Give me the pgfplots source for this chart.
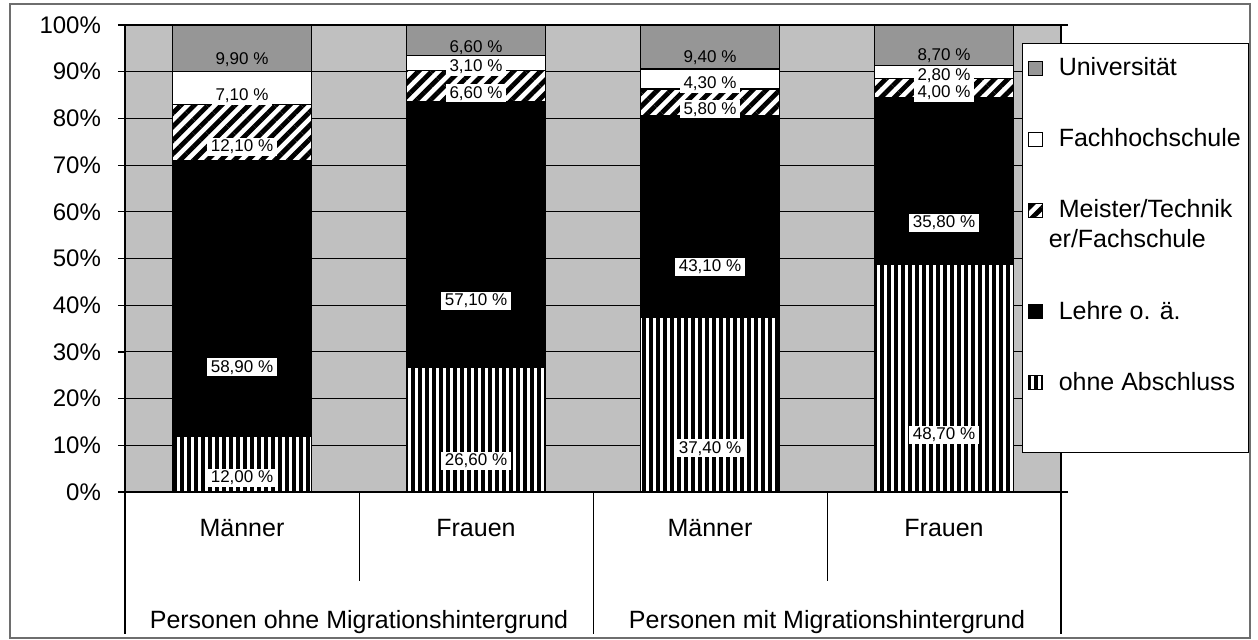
\documentclass[border=0pt]{standalone}
\usepackage{pgfplots}
\pgfplotsset{compat=1.18}
\usepackage{pgfplotstable}
\usepackage{fontspec}
\setmainfont{Liberation Sans}
\usetikzlibrary{patterns,patterns.meta}
\definecolor{bggray}{RGB}{192,192,192}
\definecolor{unigray}{RGB}{150,150,150}
\definecolor{framegray}{RGB}{110,110,110}

\pgfplotstableread{
x ohne lehre meister fh uni
0 12.0 58.9 12.1 7.1 9.9
1 26.6 57.1 6.6 3.1 6.6
2 37.4 43.1 5.8 4.3 9.4
3 48.7 35.8 4.0 2.8 8.7
}\datatable

\pgfplotsset{
  legsq/.style={legend image code/.code={\draw[##1] (0.5pt,-3.5pt) rectangle (7.5pt,3.5pt); \path (0pt,0pt) (13.5pt,0pt);}},
  legsqup/.style={legend image code/.code={\draw[##1] (0.5pt,4pt) rectangle (7.5pt,11pt); \path (0pt,-11pt) (13.5pt,0pt);}},
  segedge/.style={draw=black, line width=0.6pt},
  ohnestyle/.style={segedge, fill=white,
    postaction={pattern={Lines[angle=90,distance=3.5pt,line width=1.6pt]}, pattern color=black}},
  lehrestyle/.style={segedge, fill=black},
  meisterstyle/.style={segedge, fill=white,
    postaction={pattern={Lines[angle=45,distance=4.8pt,line width=2.4pt]}, pattern color=black}},
  fhstyle/.style={segedge, fill=white},
  unistyle/.style={segedge, fill=unigray},
}

\begin{document}
\begin{tikzpicture}
\useasboundingbox (0,0) rectangle (629pt,319.5pt);
\draw[framegray, line width=1pt] (5pt,0.75pt) rectangle (625pt,317.5pt);
\begin{axis}[
  at={(62.5pt,73.5pt)}, anchor=south west,
  scale only axis, width=468pt, height=233.5pt,
  xmin=-0.5, xmax=3.5, ymin=0, ymax=100,
  ybar stacked, bar width=69.5pt,
  axis background/.style={fill=bggray},
  axis line style={black, line width=0.6pt},
  ytick={0,10,...,100},
  yticklabel={\pgfmathprintnumber{\tick}\%},
  ymajorgrids, grid style={black, line width=0.5pt},
  ytick style={black, line width=0.6pt},
  tick align=outside, major tick length=3.5pt,
  xtick={0,1,2,3}, xticklabels={Männer,Frauen,Männer,Frauen},
  xtick style={draw=none},
  xticklabel style={font=\fontsize{12.5}{15}\selectfont, anchor=center, yshift=-14.5pt},
  yticklabel style={font=\fontsize{12}{14}\selectfont, xshift=-5pt},
  /pgf/number format/assume math mode=true,
  clip=false,
  point meta=explicit symbolic,
  nodes near coords={\pgfmathprintnumber[fixed,fixed zerofill,precision=2,use comma]{\pgfplotspointmeta}~\%},
  nodes near coords align=center,
  every node near coord/.append style={font=\fontsize{8.5}{10}\selectfont, text=black, anchor=center, yshift=-\pgfplotspointmeta*0.58375pt, inner xsep=2pt, inner ysep=1pt, fill=white},
  legend style={at={(0.9583,0.9615)}, anchor=north west, draw=black, fill=white,
    font=\fontsize{12.5}{15}\selectfont, row sep=21pt, inner xsep=2pt, inner ysep=5pt,
    cells={anchor=west, align=left, inner xsep=1pt}, line width=0.6pt},
]
\addplot[ohnestyle, forget plot] table[x=x, y=ohne, meta=ohne] {\datatable};
\addplot[lehrestyle, forget plot] table[x=x, y=lehre, meta=lehre] {\datatable};
\addplot[meisterstyle, forget plot] table[x=x, y=meister, meta=meister] {\datatable};
\addplot[fhstyle, forget plot] table[x=x, y=fh, meta=fh] {\datatable};
\addplot[unistyle, forget plot, every node near coord/.append style={fill=none}]
  table[x=x, y=uni, meta=uni] {\datatable};

\addlegendimage{legsq, unistyle}
\addlegendentry{Universität}
\addlegendimage{legsq, fhstyle}
\addlegendentry{Fachhochschule}
\addlegendimage{legsqup, meisterstyle}
\addlegendentry{Meister/Technik\\\hspace*{-5pt}er/Fachschule}
\addlegendimage{legsq, lehrestyle}
\addlegendentry{Lehre o. ä.}
\addlegendimage{legsq, ohnestyle}
\addlegendentry{ohne Abschluss}
\addlegendimage{empty legend}
\addlegendentry[inner sep=0pt]{}

\draw[black, line width=0.5pt] (axis cs:0.5,0) -- ++(0pt,-44.5pt);
\draw[black, line width=0.5pt] (axis cs:2.5,0) -- ++(0pt,-44.5pt);
\draw[black, line width=0.5pt] (axis cs:1.5,0) -- ++(0pt,-71pt);
\draw[black, line width=0.6pt] (rel axis cs:0,0) -- ++(0pt,-71pt);
\draw[black, line width=0.6pt] (rel axis cs:1,0) -- ++(0pt,-71pt);
\node[font=\fontsize{12.5}{15}\selectfont] at (axis cs:0.5,0) [yshift=-65pt] {Personen ohne Migrationshintergrund};
\node[font=\fontsize{12.5}{15}\selectfont] at (axis cs:2.5,0) [yshift=-65pt] {Personen mit Migrationshintergrund};
\end{axis}
\end{tikzpicture}
\end{document}
